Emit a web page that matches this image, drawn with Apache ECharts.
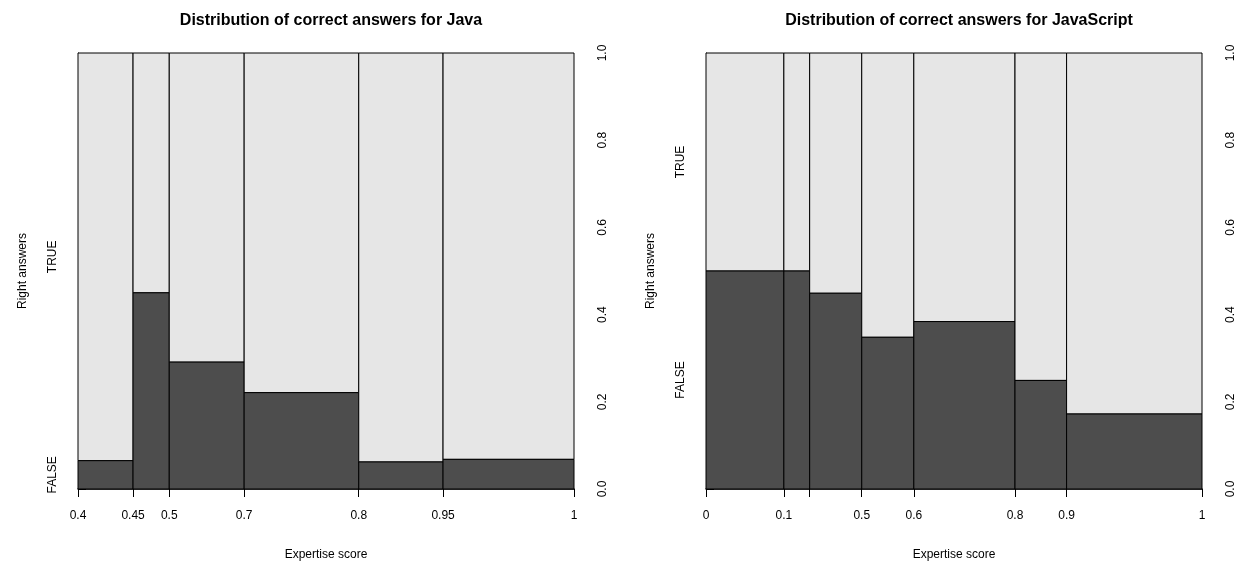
<!DOCTYPE html>
<html>
<head>
<meta charset="utf-8">
<script src="https://cdn.jsdelivr.net/npm/echarts@6/dist/echarts.min.js"></script>
<style>
html,body{margin:0;padding:0;background:#fff;}
#chart{width:1239px;height:566px;}
</style>
</head>
<body>
<div id="chart"></div>
<script>
const javaTitle = 'Distribution of correct answers for Java';
const javaBreakLabels = ['0.4', '0.45', '0.5', '0.7', '0.8', '0.95', '1'];
const javaBinShares = [0.111, 0.073, 0.151, 0.231, 0.170, 0.264];
const javaFalseShare = [0.065, 0.45, 0.291, 0.221, 0.062, 0.068];

const jsTitle = 'Distribution of correct answers for JavaScript';
const jsBreakLabels = ['0', '0.1', '', '0.5', '0.6', '0.8', '0.9', '1'];
const jsBinShares = [0.157, 0.052, 0.105, 0.105, 0.204, 0.104, 0.273];
const jsFalseShare = [0.5, 0.5, 0.449, 0.348, 0.384, 0.249, 0.172];

const levelLabels = ['FALSE', 'TRUE'];
const xLabel = 'Expertise score';
const yLabel = 'Right answers';

// ---- Styles ----
const DARK = '#4D4D4D';
const LIGHT = '#E6E6E6';
const FONT = 'Liberation Sans, Arial, Helvetica, sans-serif';
const panels = [
  {title: javaTitle, labels: javaBreakLabels, shares: javaBinShares, falseShare: javaFalseShare, left: 78},
  {title: jsTitle, labels: jsBreakLabels, shares: jsBinShares, falseShare: jsFalseShare, left: 706}
];
const GRID_W = 496, GRID_TOP = 53, GRID_H = 443;

function cumulative(shares) {
  const total = shares.reduce((a, b) => a + b, 0);
  const out = [0];
  let s = 0;
  shares.forEach(v => { s += v; out.push(s / total); });
  return out;
}

const option = {
  animation: false,
  backgroundColor: '#fff',
  textStyle: {fontFamily: FONT},
  title: [], grid: [], xAxis: [], yAxis: [], series: []
};

panels.forEach((p, i) => {
  const cum = cumulative(p.shares);
  const f0 = p.falseShare[0];
  const levelPos = [f0 / 2, f0 + (1 - f0) / 2];
  option.title.push({
    text: p.title, left: p.left + GRID_W / 2, top: 8, textAlign: 'center',
    textStyle: {fontFamily: FONT, fontSize: 16, fontWeight: 'bold', color: '#000'}
  });
  option.grid.push({left: p.left, top: GRID_TOP, width: GRID_W, height: GRID_H});
  option.xAxis.push({
    type: 'value', gridIndex: i, min: 0, max: 1,
    name: xLabel, nameLocation: 'middle', nameGap: 60,
    nameTextStyle: {fontFamily: FONT, fontSize: 12, color: '#000'},
    axisLine: {show: true, lineStyle: {color: '#000', width: 1.5}},
    axisTick: {show: true, length: 8, customValues: cum, lineStyle: {color: '#000'}},
    axisLabel: {
      show: true, margin: 21, customValues: cum, color: '#000', fontSize: 12, fontFamily: FONT,
      formatter: (v) => {
        let best = 0, d = 1e9;
        cum.forEach((c, k) => { if (Math.abs(c - v) < d) { d = Math.abs(c - v); best = k; } });
        return p.labels[best];
      }
    },
    splitLine: {show: false}
  });
  // right proportion axis
  option.yAxis.push({
    type: 'value', gridIndex: i, min: 0, max: 1, interval: 0.2, position: 'right',
    axisLine: {show: true, lineStyle: {color: '#000', width: 1}},
    axisTick: {show: true, length: 8, lineStyle: {color: '#000'}},
    axisLabel: {show: true, rotate: 90, margin: 23, color: '#000', fontSize: 12, fontFamily: FONT,
      formatter: (v) => v.toFixed(1)},
    splitLine: {show: false}
  });
  // left level axis (FALSE / TRUE)
  option.yAxis.push({
    type: 'value', gridIndex: i, min: 0, max: 1, position: 'left',
    name: yLabel, nameLocation: 'middle', nameGap: 49, nameRotate: 90,
    nameTextStyle: {fontFamily: FONT, fontSize: 12, color: '#000'},
    axisLine: {show: false}, axisTick: {show: false},
    axisLabel: {show: true, rotate: 90, margin: 19, customValues: levelPos, color: '#000', fontSize: 12, fontFamily: FONT,
      formatter: (v) => (Math.abs(v - levelPos[0]) < Math.abs(v - levelPos[1]) ? levelLabels[0] : levelLabels[1])},
    splitLine: {show: false}
  });
  const data = p.falseShare.map((f, k) => [cum[k], cum[k + 1], f]);
  option.series.push({
    type: 'custom', xAxisIndex: i, yAxisIndex: i * 2,
    data: data,
    renderItem: (params, api) => {
      const x0 = api.value(0), x1 = api.value(1), f = api.value(2);
      const pBL = api.coord([x0, 0]);
      const pF = api.coord([x1, f]);
      const pTop = api.coord([x1, 1]);
      return {
        type: 'group',
        children: [
          {type: 'rect', shape: {x: pBL[0], y: pTop[1], width: pF[0] - pBL[0], height: pF[1] - pTop[1]},
            style: {fill: LIGHT, stroke: '#000', lineWidth: 1}},
          {type: 'rect', shape: {x: pBL[0], y: pF[1], width: pF[0] - pBL[0], height: pBL[1] - pF[1]},
            style: {fill: DARK, stroke: '#000', lineWidth: 1}}
        ]
      };
    }
  });
});

const chart = echarts.init(document.getElementById('chart'), null, {renderer: 'canvas'});
chart.setOption(option);
</script>
</body>
</html>
